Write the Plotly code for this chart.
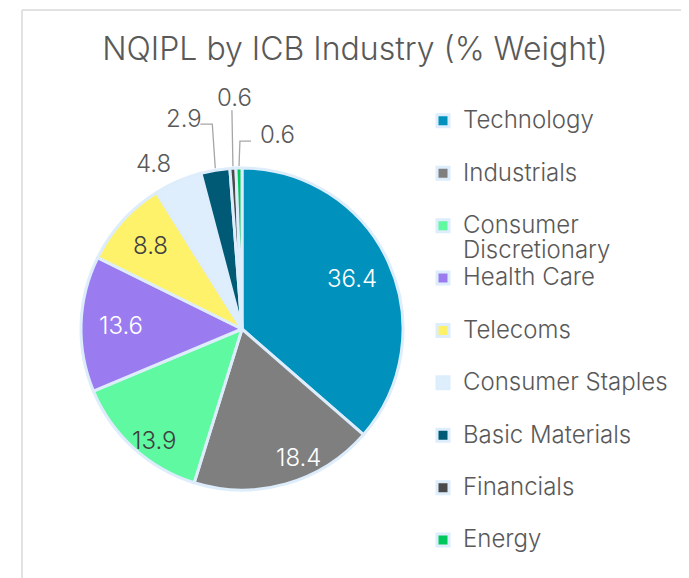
import math
import plotly.graph_objects as go

# ---------------- data ----------------
categories = ["Technology", "Industrials", "Consumer Discretionary", "Health Care",
              "Telecoms", "Consumer Staples", "Basic Materials", "Financials", "Energy"]
weights = [36.4, 18.4, 13.9, 13.6, 8.8, 4.8, 2.9, 0.6, 0.6]
title_text = "NQIPL by ICB Industry (% Weight)"

# ---------------- styles ----------------
slice_colors = ["#0091BD", "#7F7F7F", "#5EF9A0", "#9A7CF0", "#FFF26B",
                "#DFEEFC", "#005A75", "#4A4A4A", "#00C85A"]
label_colors = ["#FFFFFF", "#FFFFFF", "#404040", "#FFFFFF", "#404040",
                "#595959", "#595959", "#595959", "#595959"]
edge_color = "#DDEDFB"
text_grey = "#595959"
FONT = "Inter"

PAGE_OFF = 8                        # default body margin of the html page
SW, SH = 689, 578                   # screen size
W, H = SW - PAGE_OFF, SH - PAGE_OFF  # figure size
CX, CY, R = 242, 329, 161           # pie centre / radius in screen pixels


def fx(px):
    return (px - PAGE_OFF) / W


def fy(py):
    return 1 - (py - PAGE_OFF) / H


# mid angles (clockwise from 12 o'clock) computed from the data
total = sum(weights)
mids, cum = [], 0.0
for w in weights:
    mids.append((cum + w / 2) / total * 2 * math.pi)
    cum += w


def pol(a, r):
    return CX + r * math.sin(a), CY - r * math.cos(a)


# legend labels built from the categories (two lines each for even spacing)
def legend_label(c):
    if len(c) > 18:
        parts = c.split(" ", 1)
        return "<span style='font-size:24px'>%s</span><br><span style='font-size:24px'>%s</span>" % (parts[0], parts[1])
    return "<span style='font-size:24px'>%s</span><br>\u00a0" % c


leg_labels = [legend_label(c) for c in categories]

fig = go.Figure(go.Pie(
    labels=leg_labels,
    values=weights,
    sort=False,
    direction="clockwise",
    rotation=0,
    textinfo="none",
    hoverinfo="skip",
    marker=dict(colors=slice_colors, line=dict(color=edge_color, width=3)),
    domain=dict(x=[fx(CX - R), fx(CX + R)], y=[fy(CY + R), fy(CY - R)]),
))

annotations = []
shapes = []

# inside labels: (angle shift in degrees from the slice middle, radius factor)
inside = {0: (0, 0.75), 1: (-8, 0.87), 2: (-4, 0.88), 3: (0, 0.75), 4: (0, 0.77)}
for i, (dang, rf) in inside.items():
    x, y = pol(mids[i] + math.radians(dang), rf * R)
    annotations.append(dict(x=fx(x), y=fy(y), xref="paper", yref="paper",
                            text="%.1f" % weights[i], showarrow=False,
                            xanchor="center", yanchor="middle",
                            font=dict(family=FONT, size=24, color=label_colors[i], weight=300)))

# outside labels: offset of label centre from slice edge, and leader line bends
outside = {
    5: dict(off=(-25, -18), line=None),
    6: dict(off=(-31, -52), line=[(-3, -46), (-15, -46)]),
    7: dict(off=(2, -71), line=[(-1, -58)]),
    8: dict(off=(39, -34), line=[(1, -27), (12, -27)]),
}
for i, spec in outside.items():
    ex, ey = pol(mids[i], R)
    lx, ly = ex + spec["off"][0], ey + spec["off"][1]
    annotations.append(dict(x=fx(lx), y=fy(ly), xref="paper", yref="paper",
                            text="%.1f" % weights[i], showarrow=False,
                            xanchor="center", yanchor="middle",
                            font=dict(family=FONT, size=24, color=label_colors[i], weight=300)))
    if spec["line"]:
        pts = [(ex, ey - 2)] + [(ex + dx, ey + dy) for dx, dy in spec["line"]]
        path = "M " + " L ".join("%.4f,%.4f" % (fx(px), fy(py)) for px, py in pts)
        shapes.append(dict(type="path", xref="paper", yref="paper", path=path,
                           line=dict(color="#A6A6A6", width=1.3)))

# chart frame
frame_col = "#D9D9D9"
shapes += [
    dict(type="line", xref="paper", yref="paper", x0=fx(7), x1=fx(7), y0=fy(SH), y1=fy(0),
         line=dict(color=frame_col, width=1.5)),
    dict(type="line", xref="paper", yref="paper", x0=fx(22), x1=fx(22), y0=fy(SH), y1=fy(10),
         line=dict(color=frame_col, width=1.5)),
    dict(type="line", xref="paper", yref="paper", x0=fx(22), x1=fx(687), y0=fy(10), y1=fy(10),
         line=dict(color=frame_col, width=1.5)),
    dict(type="line", xref="paper", yref="paper", x0=fx(687), x1=fx(687), y0=fy(SH), y1=fy(10),
         line=dict(color=frame_col, width=1.5)),
]

fig.update_layout(
    width=W, height=H,
    margin=dict(l=0, r=0, t=0, b=0, autoexpand=False),
    paper_bgcolor="white", plot_bgcolor="white",
    title=dict(text=title_text, x=fx(355), xanchor="center", y=fy(49), yanchor="middle",
               font=dict(family=FONT, size=32, color=text_grey, weight=300)),
    legend=dict(x=fx(423), xanchor="left", y=fy(102), yanchor="top",
                font=dict(family=FONT, size=19, color=text_grey, weight=300),
                valign="top", bgcolor="rgba(0,0,0,0)", borderwidth=0),
    annotations=annotations,
    shapes=shapes,
    showlegend=True,
)

fig.write_html("out.html")
